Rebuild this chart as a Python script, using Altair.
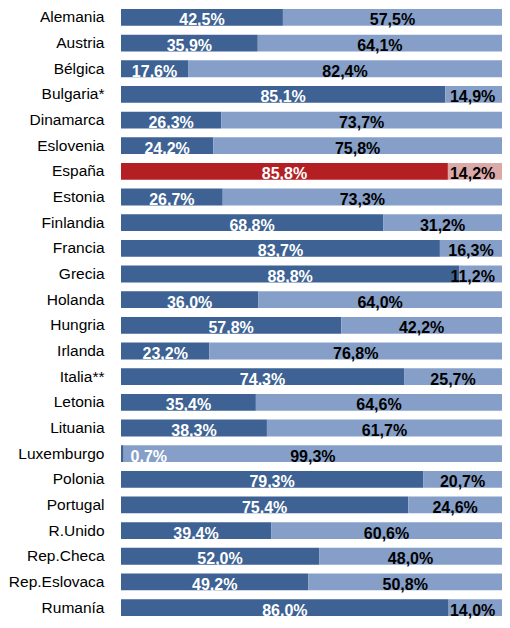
import altair as alt
import pandas as pd

countries = ["Alemania", "Austria", "Bélgica", "Bulgaria*", "Dinamarca", "Eslovenia",
             "España", "Estonia", "Finlandia", "Francia", "Grecia", "Holanda", "Hungria",
             "Irlanda", "Italia**", "Letonia", "Lituania", "Luxemburgo", "Polonia",
             "Portugal", "R.Unido", "Rep.Checa", "Rep.Eslovaca", "Rumanía"]
first = [42.5, 35.9, 17.6, 85.1, 26.3, 24.2, 85.8, 26.7, 68.8, 83.7, 88.8, 36.0, 57.8,
         23.2, 74.3, 35.4, 38.3, 0.7, 79.3, 75.4, 39.4, 52.0, 49.2, 86.0]
second = [57.5, 64.1, 82.4, 14.9, 73.7, 75.8, 14.2, 73.3, 31.2, 16.3, 11.2, 64.0, 42.2,
          76.8, 25.7, 64.6, 61.7, 99.3, 20.7, 24.6, 60.6, 48.0, 50.8, 14.0]
highlight = "España"

rows = []
for c, a, b in zip(countries, first, second):
    hi = c == highlight
    rows.append({"country": c, "seg": 0, "value": a,
                 "key": "red" if hi else "dark", "tcol": "white"})
    rows.append({"country": c, "seg": 1, "value": b,
                 "key": "pink" if hi else "light", "tcol": "black"})
df = pd.DataFrame(rows)
df["label"] = df["value"].map(lambda v: f"{v:.1f}".replace(".", ",") + "%")

base = alt.Chart(df).transform_stack(
    stack="value", groupby=["country"], as_=["x0", "x1"], sort=[alt.SortField("seg")]
).transform_calculate(
    mid="min(max((datum.x0 + datum.x1) / 2, datum.x0 + 7.3), 92.3)"
)

yenc = alt.Y("country:N", sort=countries,
             scale=alt.Scale(paddingInner=0.345, paddingOuter=0.039),
             axis=alt.Axis(title=None, domain=False, ticks=False, labelPadding=17,
                           labelFont="Liberation Sans", labelFontSize=15.5,
                           labelColor="#000000"))

bars = base.mark_bar().encode(
    y=yenc,
    x=alt.X("x0:Q", scale=alt.Scale(domain=[0, 100], nice=False, zero=True), axis=None),
    x2="x1:Q",
    color=alt.Color("key:N",
                    scale=alt.Scale(domain=["dark", "light", "red", "pink"],
                                    range=["#3D6293", "#869FC8", "#B41F23", "#DCA9A9"]),
                    legend=None),
)

texts = base.mark_text(font="Liberation Sans", fontSize=16, fontWeight="bold",
                       baseline="alphabetic", dy=8).encode(
    y=alt.Y("country:N", sort=countries),
    x=alt.X("mid:Q"),
    text="label:N",
    color=alt.Color("tcol:N", scale=None),
)

chart = alt.layer(bars, texts).properties(
    width=381, height=609,
    autosize=alt.AutoSizeParams(type="none"),
    padding={"left": 113, "top": 0, "right": 0, "bottom": 3},
).configure_view(stroke=None)

chart.save("out.html", embed_options={"renderer": "svg", "actions": False})
